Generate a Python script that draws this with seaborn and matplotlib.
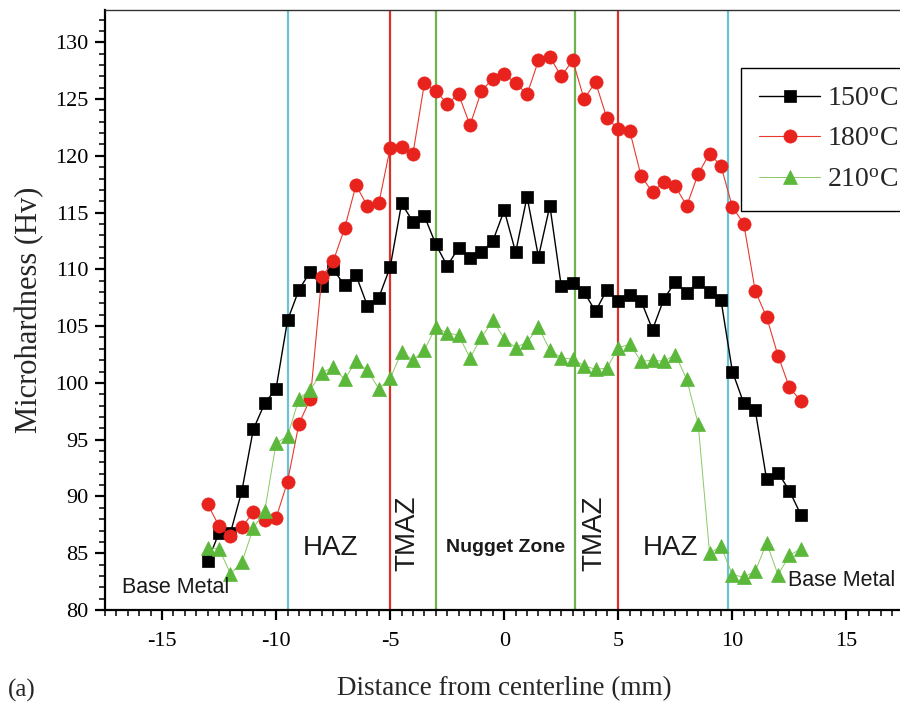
import numpy as np
import pandas as pd
import matplotlib
matplotlib.use("Agg")
import matplotlib.pyplot as plt
import seaborn as sns
from matplotlib.ticker import MultipleLocator

# ---------------- data ----------------
distance = [-13.0 + 0.5 * i for i in range(53)]

hv_150 = [84.3, 86.8, 86.8, 90.5, 95.9, 98.2, 99.5, 105.5, 108.2, 109.8,
          108.5, 110.0, 108.6, 109.5, 106.8, 107.5, 110.2, 115.8, 114.2, 114.7,
          112.2, 110.3, 111.9, 111.0, 111.5, 112.5, 115.2, 111.5, 116.4, 111.1,
          115.6, 108.5, 108.8, 108.0, 106.3, 108.2, 107.2, 107.7, 107.2, 104.7,
          107.4, 108.9, 107.9, 108.9, 108.0, 107.3, 101.0, 98.2, 97.6, 91.5,
          92.1, 90.5, 88.4]

hv_180 = [89.3, 87.4, 86.5, 87.3, 88.6, 87.9, 88.1, 91.3, 96.4, 98.6,
          109.3, 110.7, 113.6, 117.4, 115.6, 115.8, 120.7, 120.8, 120.2, 126.4,
          125.7, 124.6, 125.4, 122.7, 125.7, 126.8, 127.2, 126.4, 125.4, 128.4,
          128.7, 127.0, 128.4, 125.0, 126.5, 123.3, 122.4, 122.2, 118.2, 116.8,
          117.7, 117.3, 115.6, 118.4, 120.2, 119.1, 115.5, 114.0, 108.1, 105.8,
          102.4, 99.6, 98.4]

hv_210 = [85.5, 85.4, 83.2, 84.2, 87.2, 88.7, 94.7, 95.3, 98.6, 99.4,
          100.9, 101.4, 100.3, 101.9, 101.1, 99.5, 100.4, 102.7, 102.0, 102.9,
          104.9, 104.4, 104.2, 102.2, 104.0, 105.5, 103.9, 103.1, 103.6, 104.9,
          102.9, 102.2, 102.1, 101.5, 101.2, 101.3, 103.1, 103.4, 101.9, 102.0,
          101.9, 102.5, 100.3, 96.4, 85.0, 85.6, 83.1, 82.9, 83.4, 85.9,
          83.1, 84.8, 85.4]

series_labels = ["150$^{\\mathrm{o}}$C", "180$^{\\mathrm{o}}$C", "210$^{\\mathrm{o}}$C"]

zone_lines = [-9.5, -5.0, -3.0, 3.1, 5.0, 9.8]
zone_colors = ["#6cc3d5", "#d9322a", "#6db44a", "#6db44a", "#d9322a", "#6cc3d5"]

zone_texts = ["Base Metal", "HAZ", "TMAZ", "Nugget Zone", "TMAZ", "HAZ", "Base Metal"]
zone_text_x = [-14.4, -7.6, -4.25, 0.05, 3.95, 7.3, 14.8]
zone_text_y = [82.0, 85.5, 86.8, 85.5, 86.8, 85.5, 82.6]

xticks = [-15, -10, -5, 0, 5, 10, 15]
yticks = [80, 85, 90, 95, 100, 105, 110, 115, 120, 125, 130]

# ---------------- style ----------------
sns.set_theme(style="white")
plt.rcParams["font.family"] = ["Liberation Serif", "DejaVu Serif"]
plt.rcParams["mathtext.fontset"] = "custom"
plt.rcParams["mathtext.rm"] = "Liberation Serif"
plt.rcParams["mathtext.it"] = "Liberation Serif:italic"
plt.rcParams["axes.unicode_minus"] = False

df = pd.DataFrame({
    "distance": distance * 3,
    "hv": hv_150 + hv_180 + hv_210,
    "temp": [series_labels[0]] * 53 + [series_labels[1]] * 53 + [series_labels[2]] * 53,
})

fig = plt.figure(figsize=(9.0, 7.03), dpi=100)
ax = fig.add_axes([105 / 900, 93 / 703, 798.5 / 900, 600 / 703])

# zone boundary lines
for xv, c in zip(zone_lines, zone_colors):
    ax.axvline(xv, color=c, lw=1.6, zorder=1)

styles = [
    dict(marker="s", color="#000000", mfc="#000000", mec="#000000", ms=8.5, lw=1.0),
    dict(marker="o", color="#e8392e", mfc="#e8231d", mec="#e8231d", ms=9.5, lw=0.8),
    dict(marker="^", color="#8cc866", mfc="#5bb83a", mec="#5bb83a", ms=10, lw=0.7),
]
for lab, st in zip(series_labels, styles):
    sub = df[df["temp"] == lab]
    sns.lineplot(data=sub, x="distance", y="hv", ax=ax, label=lab,
                 marker=st["marker"], color=st["color"], lw=st["lw"],
                 markerfacecolor=st["mfc"], markeredgecolor=st["mec"],
                 markersize=st["ms"], markeredgewidth=0.5, zorder=3)

ax.set_xlim(-17.5, 17.5)
ax.set_ylim(80, 132.84)
ax.set_xticks(xticks)
ax.set_yticks(yticks)
ax.xaxis.set_minor_locator(MultipleLocator(0.5))
ax.yaxis.set_minor_locator(MultipleLocator(1))
ax.tick_params(axis="both", which="major", direction="out", length=7, width=1.6,
               labelsize=16, colors="black", bottom=True, left=True, pad=5)
ax.tick_params(axis="both", which="minor", direction="out", length=4, width=1.3,
               bottom=True, left=True)
ax.tick_params(axis="x", which="major", pad=9)

for side in ["left", "bottom"]:
    ax.spines[side].set_color("black")
    ax.spines[side].set_linewidth(1.6)
for side in ["top", "right"]:
    ax.spines[side].set_color("#333333")
    ax.spines[side].set_linewidth(1.0)

ax.set_xlabel("Distance from centerline (mm)", fontsize=19.5, labelpad=18)
ax.set_ylabel("Microhardness (Hv)", fontsize=22, labelpad=8)

for t, xv, yv in zip(zone_texts, zone_text_x, zone_text_y):
    kw = dict(ha="center", va="center", color="#1a1a1a",
              family=["Liberation Sans", "DejaVu Sans"], zorder=4)
    if t == "TMAZ":
        ax.text(xv, yv, t, rotation=90, fontsize=20, **kw)
    elif t == "HAZ":
        ax.text(xv, yv, t, fontsize=20, **kw)
    elif t == "Nugget Zone":
        ax.text(xv, yv, t, fontsize=14, fontweight="bold", **kw)
    else:
        ax.text(xv, yv, t, fontsize=15.5, **kw)

leg = ax.legend(loc="upper left", bbox_to_anchor=((741 - 105) / 798.5, (610 - 68) / 600),
                fontsize=20, frameon=True, fancybox=False, framealpha=1,
                edgecolor="black", handlelength=2.2, handletextpad=0.25,
                borderpad=0.65, labelspacing=0.55, borderaxespad=0)
leg.get_frame().set_linewidth(1.0)

fig.text(22 / 900, 1 - 690 / 703, "(a)", fontsize=18, ha="center", va="center")

fig.savefig("out.png", dpi=100)
